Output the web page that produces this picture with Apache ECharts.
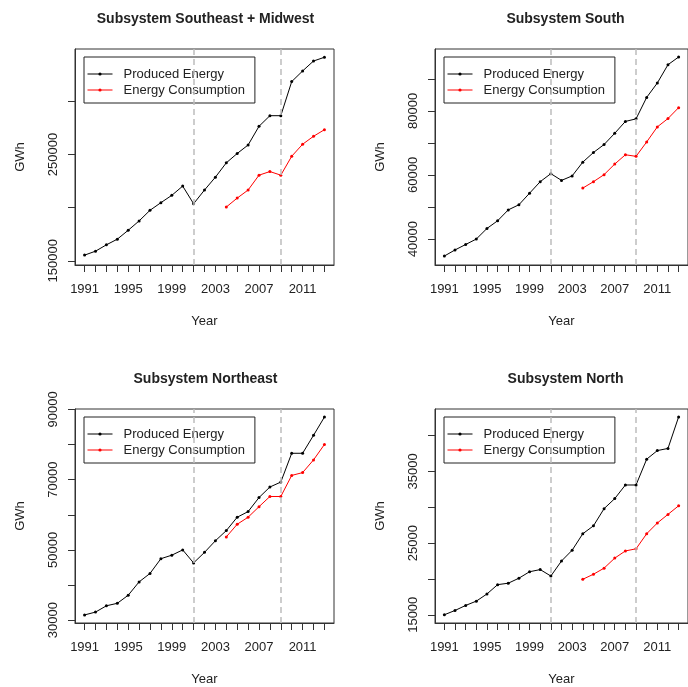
<!DOCTYPE html>
<html>
<head>
<meta charset="utf-8">
<title>Produced energy and consumption by subsystem</title>
<script src="https://cdn.jsdelivr.net/npm/echarts@6/dist/echarts.min.js"></script>
<style>
  html, body { margin: 0; padding: 0; background: #fff; }
  #chart { width: 688px; height: 687px; }
</style>
</head>
<body>
<div id="chart"></div>
<script>
// years on the x axis
const years = [1991, 1992, 1993, 1994, 1995, 1996, 1997, 1998, 1999, 2000, 2001, 2002,
  2003, 2004, 2005, 2006, 2007, 2008, 2009, 2010, 2011, 2012, 2013];
const consYears = [2004, 2005, 2006, 2007, 2008, 2009, 2010, 2011, 2012, 2013];
const yearLabels = [1991, 1995, 1999, 2003, 2007, 2011];
const breakYears = [2001, 2009];

const titles = ['Subsystem Southeast + Midwest', 'Subsystem South', 'Subsystem Northeast', 'Subsystem North'];
const seriesNames = ['Produced Energy', 'Energy Consumption'];

// Southeast + Midwest (GWh)
const seProduced = [155300, 159000, 165000, 170300, 178700, 187500, 197500, 204700, 211600, 220300,
  203700, 216600, 228700, 242200, 251000, 259000, 276600, 286600, 286600, 318700, 328700, 338100, 341600];
const seConsumption = [200600, 209000, 216600, 230600, 234000, 230600, 248400, 259700, 267200, 273400];
const seTicks = [150000, 200000, 250000, 300000];
const seLabels = [150000, 250000];

// South
const sProduced = [34700, 36600, 38300, 40000, 43300, 45700, 49100, 50700, 54300, 57900,
  60400, 58300, 59700, 64000, 67000, 69500, 73000, 76700, 77500, 84200, 88700, 94400, 96800];
const sConsumption = [55900, 57900, 60100, 63400, 66300, 65800, 70300, 75000, 77600, 81000];
const sTicks = [40000, 50000, 60000, 70000, 80000, 90000];
const sLabels = [40000, 60000, 80000];

// Northeast
const neProduced = [31500, 32300, 34100, 34800, 37100, 40900, 43300, 47500, 48500, 50000,
  46300, 49300, 52600, 55500, 59300, 60900, 64900, 67900, 69300, 77500, 77500, 82600, 87800];
const neConsumption = [53700, 57300, 59300, 62300, 65200, 65200, 71200, 72000, 75600, 80000];
const neTicks = [30000, 40000, 50000, 60000, 70000, 80000, 90000];
const neLabels = [30000, 50000, 70000, 90000];

// North
const nProduced = [15000, 15600, 16300, 16900, 17900, 19200, 19400, 20100, 21000, 21300,
  20400, 22500, 24000, 26300, 27400, 29800, 31200, 33100, 33100, 36700, 37900, 38200, 42600];
const nConsumption = [19950, 20650, 21500, 22900, 23900, 24200, 26300, 27800, 29000, 30200];
const nTicks = [15000, 20000, 25000, 30000, 35000, 40000];
const nLabels = [15000, 25000, 35000];

const FONT = '"Liberation Sans", Arial, sans-serif';
const TEXT = '#222';

// layout of the four plot boxes (right column runs past the window edge)
const panels = [
  { produced: seProduced, consumption: seConsumption, ticks: seTicks, labels: seLabels, ymin: 146000, ymax: 349400, left: 75, top: 49 },
  { produced: sProduced, consumption: sConsumption, ticks: sTicks, labels: sLabels, ymin: 31900, ymax: 99300, left: 435, top: 49 },
  { produced: neProduced, consumption: neConsumption, ticks: neTicks, labels: neLabels, ymin: 29200, ymax: 90100, left: 75, top: 409 },
  { produced: nProduced, consumption: nConsumption, ticks: nTicks, labels: nLabels, ymin: 13850, ymax: 43700, left: 435, top: 409 }
];
const W = 259, H = 216;

const pairs = (xs, ys) => xs.map((x, i) => [x, ys[i]]);

const grid = [], xAxis = [], yAxis = [], series = [], title = [], legend = [];

panels.forEach((p, i) => {
  grid.push({ left: p.left, top: p.top, width: W, height: H, show: true, borderColor: '#333', borderWidth: 1 });

  title.push({
    text: titles[i], left: p.left + W / 2 + 1, top: p.top - 37, textAlign: 'center', padding: 0,
    textStyle: { fontFamily: FONT, fontSize: 14, fontWeight: 'bold', color: TEXT }
  });

  // small dot on the legend line, like the plotted points
  legend.push({
    left: p.left + 9, top: p.top + 8, orient: 'vertical',
    data: seriesNames,
    borderColor: '#222', borderWidth: 1, padding: [10, 10, 6, 3], itemGap: 2,
    itemWidth: 25, itemHeight: 4,
    lineStyle: { width: 1 },
    selectedMode: false,
    textStyle: { fontFamily: FONT, fontSize: 13, lineHeight: 14, color: TEXT, padding: [0, 0, 0, 6] }
  });

  xAxis.push({
    gridIndex: i, type: 'value', min: 1990.12, max: 2013.88,
    name: 'Year', nameLocation: 'middle', nameGap: 50,
    nameTextStyle: { fontFamily: FONT, fontSize: 13, color: TEXT },
    axisLine: { show: true, lineStyle: { color: '#333' } },
    axisTick: { show: true, length: 7, customValues: years, lineStyle: { color: '#333' } },
    axisLabel: { customValues: yearLabels, margin: 18, fontFamily: FONT, fontSize: 13, color: TEXT, formatter: v => String(v) },
    splitLine: { show: false }
  });

  yAxis.push({
    gridIndex: i, type: 'value', min: p.ymin, max: p.ymax,
    name: 'GWh', nameLocation: 'middle', nameGap: 48,
    nameTextStyle: { fontFamily: FONT, fontSize: 13, color: TEXT },
    axisLine: { show: true, lineStyle: { color: '#333' } },
    axisTick: { show: true, length: 7, customValues: p.ticks, lineStyle: { color: '#333' } },
    axisLabel: { customValues: p.labels, rotate: 90, margin: 15, fontFamily: FONT, fontSize: 13, color: TEXT, formatter: v => String(v) },
    splitLine: { show: false }
  });

  series.push({
    name: seriesNames[0], type: 'line', xAxisIndex: i, yAxisIndex: i,
    data: pairs(years, p.produced),
    symbol: 'circle', symbolSize: 3, showAllSymbol: true,
    lineStyle: { color: '#000', width: 1 }, itemStyle: { color: '#000' },
    silent: true, animation: false,
    markLine: {
      silent: true, symbol: 'none', label: { show: false }, animation: false,
      lineStyle: { color: '#bdbdbd', type: [6, 4], width: 1.5 },
      data: breakYears.map(y => ({ xAxis: y }))
    }
  });
  series.push({
    name: seriesNames[1], type: 'line', xAxisIndex: i, yAxisIndex: i,
    data: pairs(consYears, p.consumption),
    symbol: 'circle', symbolSize: 3, showAllSymbol: true,
    lineStyle: { color: '#ff0000', width: 1 }, itemStyle: { color: '#ff0000' },
    silent: true, animation: false
  });
});

const chart = echarts.init(document.getElementById('chart'), null, { renderer: 'canvas' });
chart.setOption({
  backgroundColor: '#fff',
  animation: false,
  title, legend, grid, xAxis, yAxis, series
});
</script>
</body>
</html>
